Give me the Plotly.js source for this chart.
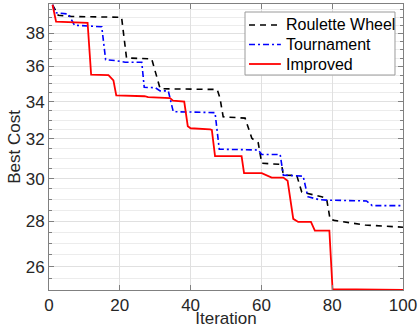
<!DOCTYPE html>
<html>
<head>
<meta charset="utf-8">
<script src="https://cdn.plot.ly/plotly-3.0.1.min.js"></script>
<style>html,body{margin:0;padding:0;background:#fff;}#chart{width:419px;height:328px;}</style>
</head>
<body>
<div id="chart"></div>
<script>
// Breakpoints (iteration, best cost)
const rouletteIter = [1, 2.6, 6.4, 20.5, 21.9, 29, 31.4, 47.5, 48.3, 49.2, 55.4, 57.3, 59.1, 60.1, 65.7, 66.2, 70, 71.4, 77, 78.4, 79.4, 80.6, 89.3, 100];
const rouletteCost = [39.8, 39.13, 39.05, 39.0, 36.5, 36.45, 34.72, 34.68, 34.2, 33.17, 33.1, 32.03, 31.8, 30.76, 30.7, 30.17, 30.15, 29.35, 29.13, 29.05, 28.08, 28.03, 27.82, 27.72];

const tournIter = [1, 1.7, 5.5, 7.2, 14.9, 16, 18.6, 21.5, 26.2, 26.9, 30, 31.4, 33.7, 35.1, 46.9, 48.1, 59.1, 60.1, 65.3, 66.2, 71.8, 73.1, 76.1, 78.4, 89.7, 91.3, 100];
const tournCost = [39.8, 39.29, 39.2, 38.5, 38.4, 36.4, 36.35, 36.25, 36.25, 34.8, 34.78, 34.6, 34.6, 33.45, 33.4, 31.47, 31.43, 31.2, 31.2, 30.17, 30.12, 29.13, 29.0, 28.97, 28.93, 28.71, 28.71];

const improvedIter = [1, 2, 10.9, 11.9, 16.8, 18.2, 19, 27, 28, 34.2, 35, 38.2, 39.2, 40, 45.5, 46, 46.9, 54.4, 55.1, 60.1, 62.9, 66.2, 67.4, 69, 70.4, 74, 75.1, 79.2, 80.1, 100];
const improvedCost = [39.8, 38.72, 38.65, 35.52, 35.5, 35.2, 34.35, 34.3, 34.25, 34.2, 34.05, 34.0, 32.67, 32.56, 32.5, 32.47, 31.12, 31.12, 30.27, 30.27, 30.05, 30.05, 29.9, 28.1, 27.96, 27.96, 27.57, 27.57, 25.06, 25.03];

const seriesNames = ['Roulette Wheel', 'Tournament', 'Improved'];
const xTicks = [0, 20, 40, 60, 80, 100];
const yTicks = [26, 28, 30, 32, 34, 36, 38];
const yMinor = [25, 25.5, 26.5, 27, 27.5, 28.5, 29, 29.5, 30.5, 31, 31.5, 32.5, 33, 33.5, 34.5, 35, 35.5, 36.5, 37, 37.5, 38.5, 39, 39.5];

const font = 'Liberation Sans, Arial, Helvetica, sans-serif';
const lineStyles = [
  {color: '#000000', width: 1.6, dash: '6px,5px'},
  {color: '#0000ff', width: 1.6, dash: '6px,3px,2px,3px'},
  {color: '#ff0000', width: 1.8}
];

const traces = [
  {x: rouletteIter, y: rouletteCost, name: seriesNames[0], mode: 'lines', line: lineStyles[0]},
  {x: tournIter, y: tournCost, name: seriesNames[1], mode: 'lines', line: lineStyles[1]},
  {x: improvedIter, y: improvedCost, name: seriesNames[2], mode: 'lines', line: lineStyles[2]}
];

// Compact MATLAB-style legend box (paper coordinates)
const leg = {x0: 0.5537, x1: 0.9774, y0: 0.7517, y1: 0.972, sx0: 0.565, sx1: 0.655, tx: 0.664, rows: [0.9266, 0.8584, 0.7902]};
const shapes = [{type: 'rect', xref: 'paper', yref: 'paper', x0: leg.x0, x1: leg.x1, y0: leg.y0, y1: leg.y1,
  line: {color: '#9a9a9a', width: 1}, fillcolor: '#ffffff', layer: 'above'}];
const annotations = [];
seriesNames.forEach((name, i) => {
  shapes.push({type: 'line', xref: 'paper', yref: 'paper', x0: leg.sx0, x1: leg.sx1, y0: leg.rows[i], y1: leg.rows[i],
    line: lineStyles[i], layer: 'above'});
  annotations.push({xref: 'paper', yref: 'paper', x: leg.tx, y: leg.rows[i], xanchor: 'left', yanchor: 'middle',
    text: name, showarrow: false, font: {family: font, size: 16, color: '#000000'}});
});

const layout = {
  width: 419, height: 328,
  margin: {l: 49, r: 16, t: 4, b: 38},
  paper_bgcolor: '#ffffff', plot_bgcolor: '#ffffff',
  font: {family: font, size: 17, color: '#262626'},
  showlegend: false,
  shapes: shapes,
  annotations: annotations,
  xaxis: {
    range: [0, 100], tickvals: xTicks, ticktext: xTicks.map(String),
    ticks: 'inside', ticklen: 5, tickcolor: '#808080', mirror: 'ticks',
    showline: true, linecolor: '#808080', linewidth: 1,
    showgrid: true, gridcolor: '#e0e0e0', gridwidth: 1, zeroline: false,
    title: {text: 'Iteration', font: {family: font, size: 17, color: '#262626'}, standoff: 0},
    tickfont: {family: font, size: 17, color: '#262626'}
  },
  yaxis: {
    type: 'log', range: [Math.log10(25.03), Math.log10(39.85)],
    tickmode: 'array', tickvals: yTicks, ticktext: yTicks.map(String),
    ticks: 'inside', ticklen: 5, tickcolor: '#808080', mirror: 'ticks',
    showline: true, linecolor: '#808080', linewidth: 1,
    showgrid: true, gridcolor: '#e0e0e0', gridwidth: 1, zeroline: false,
    minor: {tickmode: 'array', tickvals: yMinor, ticks: 'inside', ticklen: 3, tickcolor: '#808080', showgrid: true, gridcolor: '#ececec', gridwidth: 1},
    title: {text: 'Best Cost', font: {family: font, size: 17, color: '#262626'}, standoff: 0},
    tickfont: {family: font, size: 17, color: '#262626'}
  }
};

Plotly.newPlot('chart', traces, layout, {displayModeBar: false, staticPlot: true});
</script>
</body>
</html>
